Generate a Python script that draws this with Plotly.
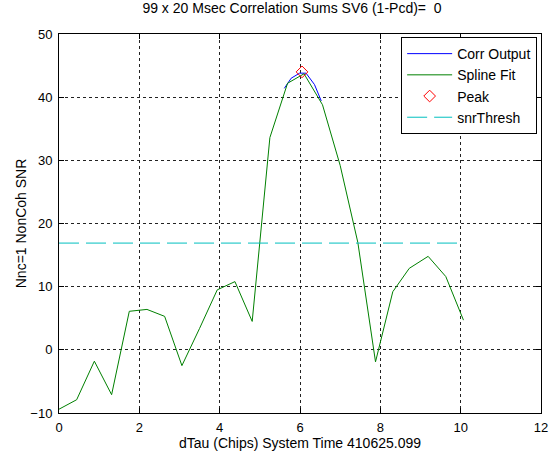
import plotly.graph_objects as go

# Spline fit (green) samples
spline_x = [0.0, 0.44, 0.88, 1.31, 1.75, 2.19, 2.63, 3.06, 3.50, 3.94, 4.38, 4.81,
            5.25, 5.69, 6.10, 6.56, 7.00, 7.44, 7.88, 8.31, 8.72, 9.19, 9.63, 10.07]
spline_y = [-9.4, -7.9, -1.8, -7.1, 6.1, 6.4, 5.3, -2.5, 3.4, 9.5, 10.8, 4.5,
            33.6, 42.2, 43.7, 38.8, 29.2, 17.0, -1.9, 9.2, 12.9, 14.8, 11.6, 4.7]

# Corr output (blue) near the peak
corr_x = [5.61, 5.78, 5.99, 6.15, 6.36, 6.53]
corr_y = [41.4, 43.0, 43.8, 43.8, 42.0, 39.4]

peak_x = [6.05]
peak_y = [44.0]

thresh_x = [0.0, 10.07]
thresh_y = [16.9, 16.9]

title_text = "99 x 20 Msec Correlation Sums SV6 (1-Pcd)=  0"
xlabel = "dTau (Chips) System Time 410625.099"
ylabel = "Nnc=1 NonCoh SNR"
xticks = [0, 2, 4, 6, 8, 10, 12]
yticks = [-10, 0, 10, 20, 30, 40, 50]

font = "Liberation Sans, Arial, sans-serif"

fig = go.Figure()
fig.add_trace(go.Scatter(x=corr_x, y=corr_y, mode="lines", name="Corr Output",
                         line=dict(color="#0000ff", width=1)))
fig.add_trace(go.Scatter(x=spline_x, y=spline_y, mode="lines", name="Spline Fit",
                         line=dict(color="#008000", width=1)))
fig.add_trace(go.Scatter(x=peak_x, y=peak_y, mode="markers", name="Peak",
                         marker=dict(symbol="diamond-open", color="#ff0000", size=9,
                                     line=dict(width=1, color="#ff0000"))))
fig.add_trace(go.Scatter(x=thresh_x, y=thresh_y, mode="lines", name="snrThresh",
                         line=dict(color="#00bfbf", width=1, dash="20px,7px")))

axis_common = dict(showline=True, linecolor="black", linewidth=1, mirror="ticks",
                   ticks="inside", ticklen=5, tickcolor="black",
                   showgrid=True, gridcolor="#222222", gridwidth=1, griddash="3px,3px",
                   zeroline=False, automargin=False,
                   tickfont=dict(family=font, size=13, color="black"))

fig.update_xaxes(range=[0, 12], tickvals=xticks, ticklabelstandoff=2, **axis_common,
                 title=dict(text=xlabel, font=dict(family=font, size=14, color="black"), standoff=4))
fig.update_yaxes(range=[-10, 50], tickvals=yticks, ticklabelstandoff=3, **axis_common,
                 title=dict(text=ylabel, font=dict(family=font, size=14, color="black"), standoff=0))

fig.update_layout(
    width=554, height=458,
    margin=dict(l=59, r=13, t=34, b=45, autoexpand=False),
    paper_bgcolor="white", plot_bgcolor="white",
    title=dict(text=title_text, x=292 / 554, xanchor="center", xref="container",
               y=1 - 3 / 458, yanchor="top", automargin=False,
               font=dict(family=font, size=14, color="black")),
    legend=dict(x=0.992, y=0.992, xanchor="right", yanchor="top",
                bgcolor="white", bordercolor="black", borderwidth=1,
                font=dict(family=font, size=14, color="black"),
                tracegroupgap=0, itemwidth=45),
    showlegend=True,
)

fig.write_html("out.html", config={"displayModeBar": False},
               post_script="document.body.style.margin='0';")
